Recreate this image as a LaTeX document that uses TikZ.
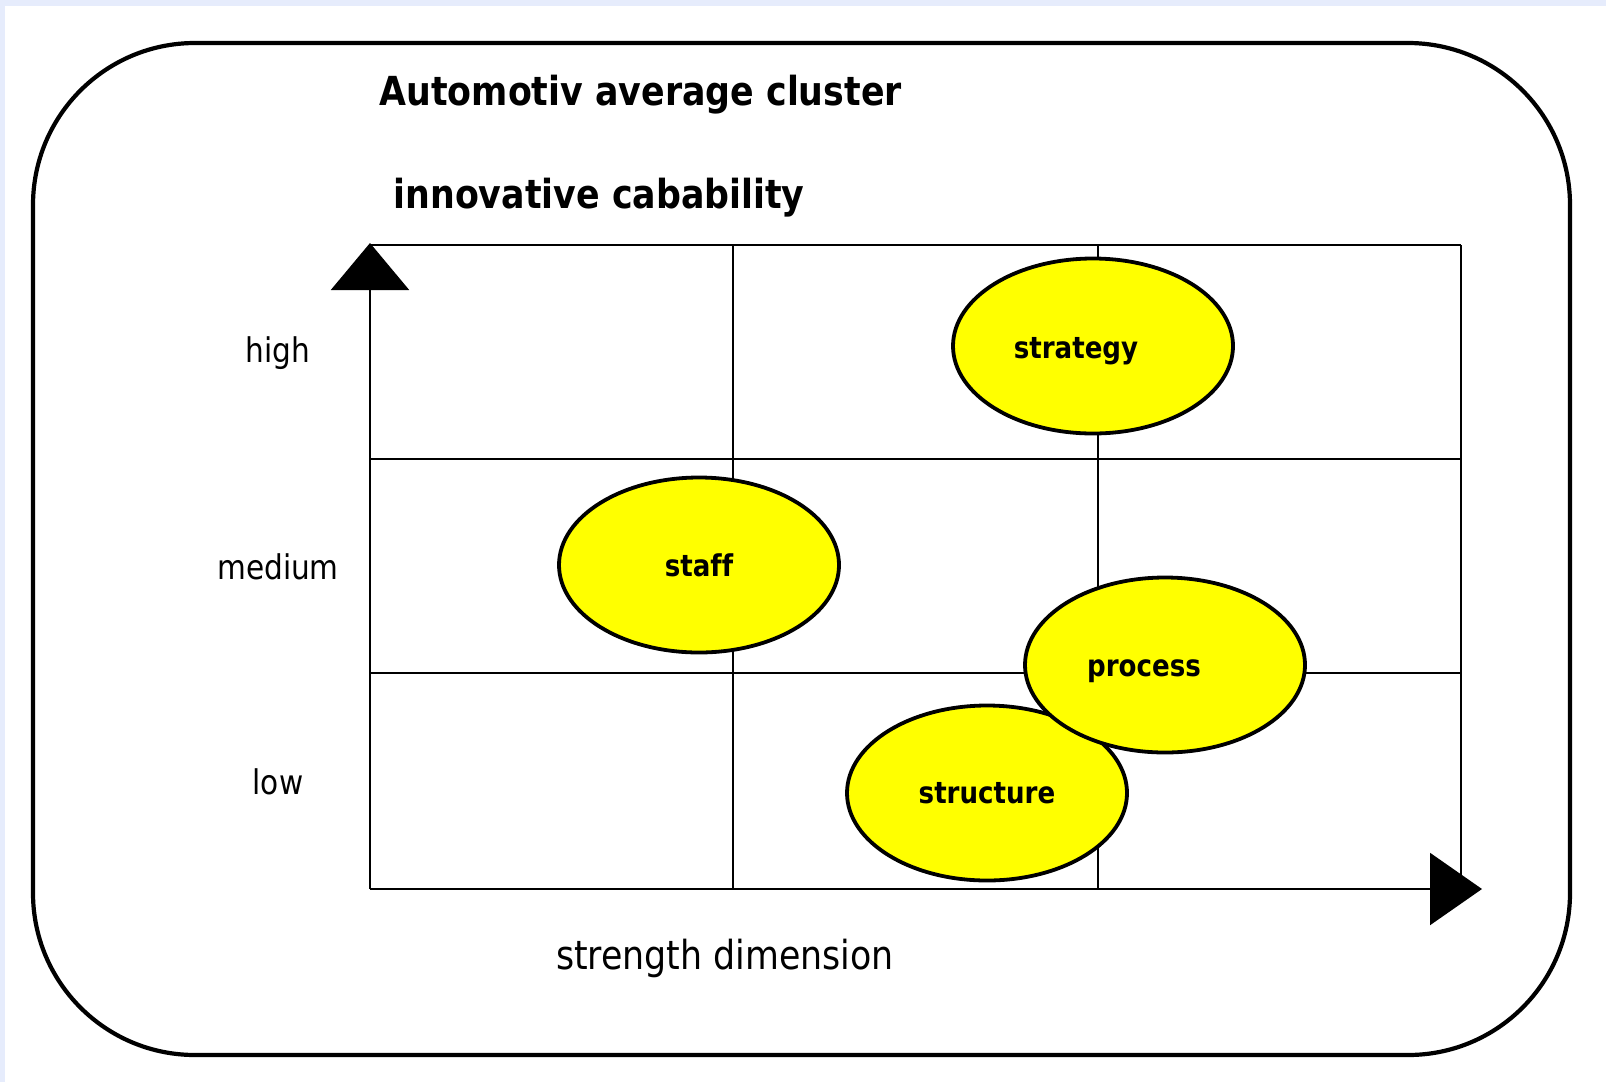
\documentclass[tikz,border=0pt]{standalone}
\usepackage{fontspec}
\setmainfont{DejaVu Sans}[FakeStretch=0.87, Ligatures=NoCommon]
\usetikzlibrary{arrows.meta,shapes.geometric}
\definecolor{bgblue}{RGB}{230,236,252}
\definecolor{blobyellow}{RGB}{255,255,0}

\begin{document}
\begin{tikzpicture}[x=1pt,y=-1pt]
		\tikzset{
			gridline/.style={
				draw, line width=2.2pt
			},
			blob/.style={
				draw, ellipse, fill=blobyellow, line width=3.8pt,
				minimum width=280pt, minimum height=175pt, inner sep=0pt
			},
			blobtext/.style={
				font=\fontsize{30}{36}\selectfont\bfseries
			},
			rowlabel/.style={
				anchor=base, font=\fontsize{34}{40}\selectfont
			},
			titletext/.style={
				anchor=base west, font=\fontsize{40}{48}\selectfont\bfseries
			}
		}
		
		\useasboundingbox (0,0) rectangle (1606,1082);
		\fill[bgblue] (0,0) rectangle (1606,1082);
		\fill[white] (5,6) rectangle (1606,1082);
		\draw[line width=4.2pt, rounded corners=162pt] (33,43) rectangle (1570,1055);
		
		\node [titletext] (title) at (376,105) {Automotiv average cluster};
		\node [titletext] (ytitle) at (390,208) {innovative cabability};
		
		\foreach \x [count=\i] in {370,733,1098,1461}{
			\coordinate (t\i) at (\x,245);
			\coordinate (b\i) at (\x,889);
		}
		\foreach \y [count=\j] in {245,459,673}{
			\coordinate (l\j) at (370,\y);
			\coordinate (r\j) at (1461,\y);
		}
		\coordinate (ytip) at (370,243);
		\coordinate (xtip) at (1482,889);
		
		\foreach \i in {2, ..., 4}{
			\path (t\i) edge [gridline] (b\i);
		}
		\foreach \j in {1, ..., 3}{
			\path (l\j) edge [gridline] (r\j);
		}
		\draw [gridline, -{Triangle[width=78pt,length=47pt]}] (b1) -- (ytip);
		\draw [gridline, -{Triangle[width=72pt,length=52pt]}] (b1) -- (xtip);
		
		\node [rowlabel] (high) at (278,362) {high};
		\node [rowlabel] (medium) at (278,579) {medium};
		\node [rowlabel] (low) at (278,794) {low};
		\node [rowlabel, font=\fontsize{40}{48}\selectfont] (xtitle) at (725,969) {strength dimension};
		
		\node [blob, label={[blobtext, xshift=-17pt, yshift=-5pt]center:strategy}] (strategy) at (1093,346) {};
		\node [blob, label={[blobtext]center:staff}] (staff) at (699,565) {};
		\node [blob, label={[blobtext]center:structure}] (structure) at (987,793) {};
		\node [blob, label={[blobtext, xshift=-21pt, yshift=-6pt]center:process}] (process) at (1165,665) {};
\end{tikzpicture}
\end{document}
